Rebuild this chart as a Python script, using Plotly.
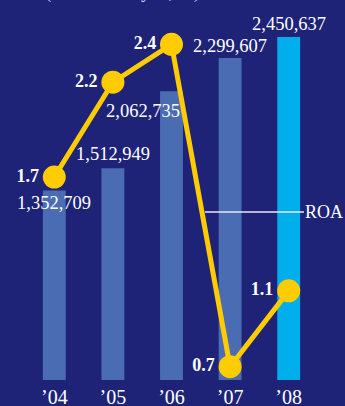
import plotly.graph_objects as go

years = ["\u201904", "\u201905", "\u201906", "\u201907", "\u201908"]
assets = [1352709, 1512949, 2062735, 2299607, 2450637]
roa = [1.7, 2.2, 2.4, 0.7, 1.1]
roa_labels = ["1.7", "2.2", "2.4", "0.7", "1.1"]
title_text = "(Millions of yen, %)"

NAVY = "#1e2378"
BAR = "#4a6cb2"
BAR_LAST = "#00aeec"
GOLD = "#ffcc00"
SERIF = "Liberation Serif, Times New Roman, serif"

bar_colors = [BAR] * (len(years) - 1) + [BAR_LAST]

fig = go.Figure()
fig.add_trace(go.Bar(
    x=years, y=assets, marker=dict(color=bar_colors, line=dict(width=0)),
    width=0.39, hoverinfo="skip", showlegend=False,
))
fig.add_trace(go.Scatter(
    x=years, y=roa, yaxis="y2", mode="lines+markers+text",
    line=dict(color=GOLD, width=5),
    marker=dict(color=GOLD, size=23),
    text=["<b>%s</b>" % t for t in roa_labels], textposition="middle left",
    textfont=dict(family=SERIF, size=18, color="white"),
    cliponaxis=False, showlegend=False,
))

# value labels for the bars
shifts = [(0, -12), (0, 14), (-29, -20), (0, 12), (0, 13)]
for (xs, ys), cat, v in zip(shifts, years, assets):
    fig.add_annotation(
        x=cat, y=v, xref="x", yref="y", text=f"{v:,}", showarrow=False,
        xshift=xs, yshift=ys, yanchor="middle", xanchor="center",
        font=dict(family=SERIF, size=18.5, color="white"),
    )

# ROA callout
fig.add_shape(type="line", xref="paper", yref="paper",
              x0=(205 - 25) / 293, x1=(304 - 25) / 293,
              y0=(380 - 212) / 360, y1=(380 - 212) / 360,
              line=dict(color="#e8e8f4", width=1.5))
fig.add_annotation(xref="paper", yref="paper", x=(303 - 25) / 293, y=(380 - 212) / 360,
                   text="ROA", showarrow=False, xanchor="left", yanchor="middle",
                   font=dict(family=SERIF, size=18, color="white"))

# clipped title at the very top
fig.add_annotation(xref="paper", yref="paper", x=(43 - 25) / 293, y=1 + (20 - 5) / 360,
                   text=title_text, showarrow=False, xanchor="left", yanchor="bottom",
                   font=dict(family=SERIF, size=19, color="#d0d2e6"))

fig.update_layout(
    width=345, height=406,
    margin=dict(l=25, r=27, t=20, b=26, autoexpand=False),
    paper_bgcolor=NAVY, plot_bgcolor=NAVY,
    xaxis=dict(showgrid=False, zeroline=False, showline=False, ticks="",
               range=[-0.5, 4.5], automargin=False, ticklabelstandoff=3,
               tickfont=dict(family=SERIF, size=20, color="white")),
    yaxis=dict(range=[0, 2571428], visible=False, showgrid=False, zeroline=False),
    yaxis2=dict(range=[0.630, 2.528], overlaying="y", visible=False,
                showgrid=False, zeroline=False),
)

fig.write_html(
    "out.html",
    config={"displayModeBar": False},
    post_script="document.body.style.margin='0';document.body.style.overflow='hidden';",
)
